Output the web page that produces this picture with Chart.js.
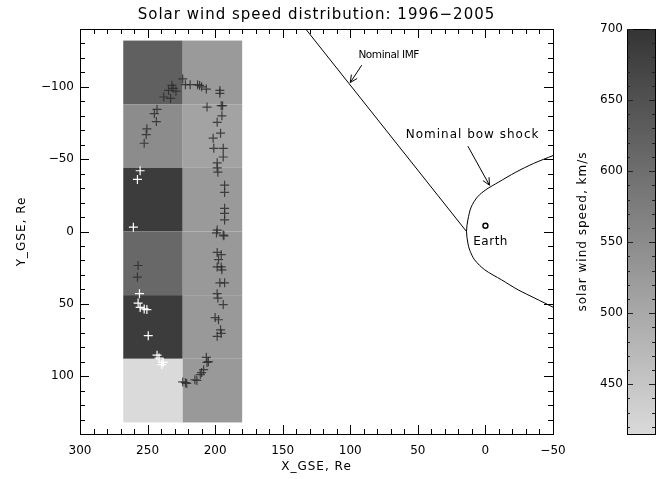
<!DOCTYPE html>
<html>
<head>
<meta charset="utf-8">
<script src="https://cdn.jsdelivr.net/npm/chart.js@4.4.1/dist/chart.umd.min.js"></script>
<style>
  html, body { margin: 0; padding: 0; background: #fff; }
  canvas { display: block; }
</style>
</head>
<body>
<canvas id="c" width="661" height="479"></canvas>
<script>
// grid cells: x edges (Re), y edges (Re), mean speed per cell (rows top->bottom, [left col, right col])
const cellXEdges = [268, 224, 180];
const cellYEdges = [-132, -88, -44, 0, 44, 88, 132];
const cellSpeeds = [
  [624, 525],
  [549, 509],
  [686, 525],
  [611, 526],
  [686, 526],
  [415, 527],
];

// colour bar
const cbRange = [415, 700];
const cbTicks = [450, 500, 550, 600, 650, 700];

// axis ticks
const xTickVals = [300, 250, 200, 150, 100, 50, 0, -50];
const yTickVals = [-100, -50, 0, 50, 100];

// crossings drawn dark
const darkX = [224, 222, 218.5, 213, 211.5, 210, 206.5, 232, 231, 234.5, 229, 238, 233, 196.5, 196.5, 206, 195.5, 194.5,
  195, 198.5, 196, 201.5, 201, 194, 194, 198.5, 198.5, 198, 193, 193, 193, 193, 193, 198.5, 194,
  243, 245, 243.5, 250.5, 251, 252.5, 257, 257.5,
  224, 222, 221, 215, 213.5, 211, 210, 208.5, 206, 206.5, 205,
  199, 193.5, 198.5, 195.5, 197.5, 198.5, 195.5, 195, 196.5, 193, 198.5, 198, 194, 200, 197.5, 196, 198.5, 195.5];
const darkY = [-105.5, -101.5, -101.5, -101.5, -101, -100, -98.5, -101, -99, -97.5, -97, -93, -92, -97.5, -95.5, -86, -87, -87,
  -80, -75.5, -68, -64.5, -57.5, -57.5, -51.5, -47.5, -44, -41, -32, -27, -16, -12.5, -8, -1, 2.5,
  -84.5, -81.5, -76, -71, -67, -61, 23.5, 31.5,
  104, 104.5, 105, 102.5, 103, 99, 97.5, 95.5, 90.5, 87, 90,
  1, 3, 14.5, 16, 19.5, 24.5, 24.5, 26.5, 35.5, 35.5, 43, 46, 50.5, 59.5, 61, 68, 72.5, 70.5];

// crossings drawn white
const whiteX = [255.5, 257.5, 260.5, 256, 257, 255.5, 252.5, 250.5, 249.5, 243, 241.5, 238.5, 239.5];
const whiteY = [-42, -36, -3, 43, 49.5, 52.5, 53.5, 54, 72, 85.5, 87.5, 90.5, 92];

// nominal IMF and bow shock
const imfX = [133, 14];
const imfY = [-140, 0];
const shockX = [-50, -35.5, -22.5, -9.5, -0.5, 5.8, 10.5, 13, 14, 13, 11.6, 8, 0.5, -11.9, -24.3, -36.6, -51.5];
const shockY = [-52.5, -47, -41, -34, -29, -24, -17, -8, 0, 8, 13, 19.6, 26.5, 33.4, 40.4, 46.1, 53];
const earthX = [0];
const earthY = [-4];

// labels and arrows in data units
const notes = [
  { text: 'Nominal IMF', x: 94, y: -122, size: 10.5, spacing: -0.4 },
  { text: 'Nominal bow shock', x: 59, y: -67, size: 12, spacing: 1 },
  { text: 'Earth', x: 9, y: 7, size: 12, spacing: 0.5 },
];
const arrows = [
  { from: [91.5, -115], to: [100, -103] },
  { from: [13, -59], to: [-3, -32] },
];

const FONT = "'DejaVu Sans', sans-serif";
const pts = (xs, ys) => xs.map((x, i) => ({ x, y: ys[i] }));

function speedGray(v) {
  const t = Math.max(0, Math.min(1, (v - cbRange[0]) / (cbRange[1] - cbRange[0])));
  const g = Math.round(218 - 166 * t);
  return `rgb(${g},${g},${g})`;
}

const fmt = v => (v < 0 ? '\u2212' + Math.abs(v) : String(v));

const cellsPlugin = {
  id: 'cells',
  beforeDatasetsDraw(chart) {
    const { ctx, scales: { x, y } } = chart;
    ctx.save();
    cellSpeeds.forEach((row, r) => {
      row.forEach((v, c) => {
        const x0 = x.getPixelForValue(cellXEdges[c]);
        const x1 = x.getPixelForValue(cellXEdges[c + 1]);
        const y0 = y.getPixelForValue(cellYEdges[r]);
        const y1 = y.getPixelForValue(cellYEdges[r + 1]);
        ctx.fillStyle = speedGray(v);
        ctx.fillRect(x0, y0, x1 - x0, y1 - y0);
      });
    });
    ctx.restore();
  },
};

function drawArrow(ctx, x0, y0, x1, y1) {
  const a = Math.atan2(y1 - y0, x1 - x0);
  const h = 8, w = 0.45;
  ctx.beginPath();
  ctx.moveTo(x0, y0);
  ctx.lineTo(x1, y1);
  ctx.moveTo(x1 - h * Math.cos(a - w), y1 - h * Math.sin(a - w));
  ctx.lineTo(x1, y1);
  ctx.lineTo(x1 - h * Math.cos(a + w), y1 - h * Math.sin(a + w));
  ctx.stroke();
}

const decorPlugin = {
  id: 'decor',
  afterDatasetsDraw(chart) {
    const { ctx, chartArea: { left, right, top, bottom }, scales: { x, y } } = chart;
    ctx.save();
    ctx.strokeStyle = '#000';
    ctx.fillStyle = '#000';
    ctx.lineWidth = 1;

    // notes and arrows
    ctx.textAlign = 'left';
    ctx.textBaseline = 'middle';
    notes.forEach(n => {
      ctx.font = `${n.size}px ${FONT}`;
      ctx.letterSpacing = `${n.spacing}px`;
      ctx.fillText(n.text, x.getPixelForValue(n.x), y.getPixelForValue(n.y));
    });
    ctx.letterSpacing = '0px';
    arrows.forEach(a => drawArrow(ctx,
      x.getPixelForValue(a.from[0]), y.getPixelForValue(a.from[1]),
      x.getPixelForValue(a.to[0]), y.getPixelForValue(a.to[1])));

    // frame with inward ticks
    ctx.strokeRect(left + 0.5, top + 0.5, right - left, bottom - top);
    ctx.beginPath();
    for (let v = -50; v <= 300; v += 10) {
      const px = Math.round(x.getPixelForValue(v)) + 0.5;
      const len = v % 50 === 0 ? 9 : 5;
      ctx.moveTo(px, bottom); ctx.lineTo(px, bottom - len);
      ctx.moveTo(px, top); ctx.lineTo(px, top + len);
    }
    for (let v = -140; v <= 140; v += 10) {
      const py = Math.round(y.getPixelForValue(v)) + 0.5;
      const len = v % 50 === 0 ? 9 : 5;
      ctx.moveTo(left, py); ctx.lineTo(left + len, py);
      ctx.moveTo(right, py); ctx.lineTo(right - len, py);
    }
    ctx.stroke();

    // titles
    ctx.textAlign = 'center';
    ctx.font = `15px ${FONT}`;
    ctx.letterSpacing = '1px';
    ctx.fillText('Solar wind speed distribution: 1996\u22122005', (left + right) / 2, 15);
    ctx.font = `12px ${FONT}`;
    ctx.fillText('X_GSE, Re', (left + right) / 2, 467);
    ctx.save();
    ctx.translate(22, (top + bottom) / 2);
    ctx.rotate(-Math.PI / 2);
    ctx.fillText('Y_GSE, Re', 0, 0);
    ctx.restore();

    // colour bar
    const bx0 = 627, bx1 = 655;
    const cbY = v => bottom - (v - cbRange[0]) / (cbRange[1] - cbRange[0]) * (bottom - top);
    const grad = ctx.createLinearGradient(0, cbY(cbRange[1]), 0, cbY(cbRange[0]));
    grad.addColorStop(0, speedGray(cbRange[1]));
    grad.addColorStop(1, speedGray(cbRange[0]));
    ctx.fillStyle = grad;
    ctx.fillRect(bx0, top, bx1 - bx0, bottom - top);
    ctx.strokeRect(bx0 + 0.5, top + 0.5, bx1 - bx0, bottom - top);
    ctx.beginPath();
    for (let v = 420; v <= cbRange[1]; v += 10) {
      const py = Math.round(cbY(v)) + 0.5;
      const len = v % 50 === 0 ? 6 : 3;
      ctx.moveTo(bx0, py); ctx.lineTo(bx0 + len, py);
      ctx.moveTo(bx1, py); ctx.lineTo(bx1 - len, py);
    }
    ctx.strokeStyle = '#222';
    ctx.stroke();
    ctx.fillStyle = '#000';
    ctx.letterSpacing = '0px';
    ctx.textAlign = 'right';
    cbTicks.forEach(v => ctx.fillText(String(v), bx0 - 4, cbY(v)));
    ctx.textAlign = 'center';
    ctx.letterSpacing = '1px';
    ctx.save();
    ctx.translate(583, (top + bottom) / 2);
    ctx.rotate(-Math.PI / 2);
    ctx.fillText('solar wind speed, km/s', 0, 0);
    ctx.restore();

    ctx.restore();
  },
};

new Chart(document.getElementById('c').getContext('2d'), {
  type: 'scatter',
  data: {
    datasets: [
      {
        type: 'line', data: pts(shockX, shockY), borderColor: '#000', borderWidth: 1,
        pointRadius: 0, tension: 0.3, fill: false,
      },
      {
        type: 'line', data: pts(imfX, imfY), borderColor: '#000', borderWidth: 1,
        pointRadius: 0, tension: 0, fill: false,
      },
      {
        data: pts(darkX, darkY), pointStyle: 'cross', pointRadius: 4.5,
        borderColor: 'rgba(45,45,45,0.85)', borderWidth: 1.2,
      },
      {
        data: pts(whiteX, whiteY), pointStyle: 'cross', pointRadius: 4.5,
        borderColor: '#fff', borderWidth: 1.2,
      },
      {
        data: pts(earthX, earthY), pointStyle: 'circle', pointRadius: 2.5,
        borderColor: '#000', backgroundColor: 'rgba(0,0,0,0)', borderWidth: 1.4,
      },
    ],
  },
  options: {
    responsive: false,
    animation: false,
    layout: { padding: { left: 0, right: 108, top: 29, bottom: 0 } },
    plugins: { legend: { display: false }, tooltip: { enabled: false } },
    scales: {
      x: {
        type: 'linear', min: -50, max: 300, reverse: true,
        afterBuildTicks: s => { s.ticks = xTickVals.map(v => ({ value: v })); },
        afterFit: s => { s.height = 45; },
        ticks: { color: '#000', font: { family: FONT, size: 12 }, padding: 10, maxRotation: 0, autoSkip: false, callback: fmt },
        grid: { display: false, drawTicks: false },
        border: { display: false },
      },
      y: {
        type: 'linear', min: -140, max: 140, reverse: true,
        afterBuildTicks: s => { s.ticks = yTickVals.map(v => ({ value: v })); },
        afterFit: s => { s.width = 80; },
        ticks: { color: '#000', font: { family: FONT, size: 12 }, padding: 6, autoSkip: false, callback: fmt },
        grid: { display: false, drawTicks: false },
        border: { display: false },
      },
    },
  },
  plugins: [cellsPlugin, decorPlugin],
});
</script>
</body>
</html>
